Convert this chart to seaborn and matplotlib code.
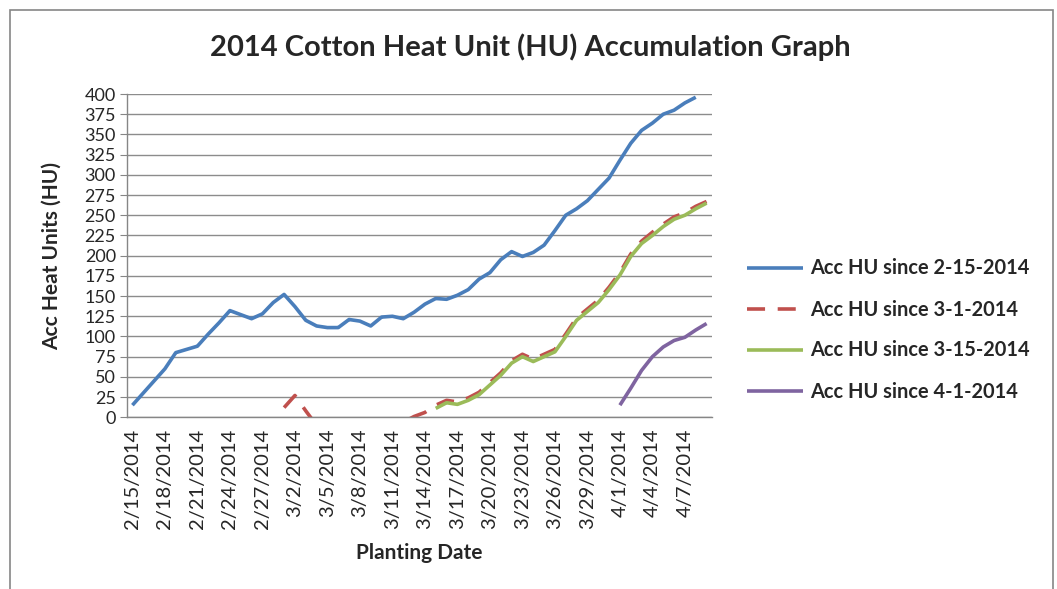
import numpy as np
import pandas as pd
import matplotlib
matplotlib.use("Agg")
import matplotlib.pyplot as plt
import seaborn as sns
from matplotlib.patches import Rectangle

nan = np.nan

# planting dates, one per day
first_day = "2014-02-15"
last_day = "2014-04-09"

series_names = ["Acc HU since 2-15-2014", "Acc HU since 3-1-2014",
                "Acc HU since 3-15-2014", "Acc HU since 4-1-2014"]

hu_feb15 = [15, 30, 45, 60, 80, 84, 88, 103, 117, 132,
            127, 122, 128, 142, 152, 137, 120, 113, 111, 111,
            121, 119, 113, 124, 125, 122, 130, 140, 147, 146,
            151, 158, 171, 179, 195, 205, 199, 204, 213, 231,
            250, 258, 268, 282, 296, 318, 339, 355, 364, 375,
            380, 389, 396, nan]

hu_mar1 = [nan] * 14 + [12, 27, 8, -10, -20, -24, -22, -25, -20, -15,
                        -10, -6, 1, 6, 15, 21, 19, 24, 31, 43,
                        55, 70, 78, 72, 78, 84, 103, 123, 134, 145,
                        161, 179, 202, 218, 229, 239, 248, 253, 261, 267]

hu_mar15 = [nan] * 28 + [11, 18, 16, 21, 28, 40, 52, 67, 75, 69,
                         75, 81, 100, 120, 131, 142, 158, 176, 199, 215,
                         225, 236, 245, 250, 258, 265]

hu_apr1 = [nan] * 45 + [15, 36, 58, 75, 87, 95, 99, 108, 116]

colors = ["#4A7EBB", "#C0504D", "#9BBB59", "#7F64A0"]

dates = pd.date_range(first_day, last_day, freq="D")
df = pd.DataFrame({"Date": dates})
for name, vals in zip(series_names, [hu_feb15, hu_mar1, hu_mar15, hu_apr1]):
    df[name] = vals
long_df = df.melt(id_vars="Date", var_name="Series", value_name="HU").dropna()

sns.set_style("white")
plt.rcParams["font.family"] = ["Lato", "DejaVu Sans"]

fig = plt.figure(figsize=(10.57, 5.89), dpi=100)
ax = fig.add_axes([127 / 1057, 1 - 417.3 / 589, (712 - 127) / 1057, (417.3 - 94) / 589])

sns.lineplot(data=long_df, x="Date", y="HU", hue="Series", style="Series",
             hue_order=series_names, style_order=series_names,
             palette=colors, dashes=[(1, 0), (5, 3.5), (1, 0), (1, 0)],
             linewidth=2.6, ax=ax, legend=True)

ax.set_ylim(0, 400)
ax.set_yticks(np.arange(0, 401, 25))
ax.set_xlim(dates[0] - pd.Timedelta(hours=12), dates[-1] + pd.Timedelta(hours=12))
tick_dates = dates[::3]
ax.set_xticks(tick_dates)
ax.set_xticklabels([f"{d.month}/{d.day}/{d.year}" for d in tick_dates], rotation=90,
                   fontsize=14.5)
ax.tick_params(axis="y", labelsize=13, length=5, color="#868686", left=True, pad=3)
ax.tick_params(axis="x", length=0, pad=8)

ax.grid(axis="y", color="#8c8c8c", linewidth=1)
ax.set_axisbelow(True)
for side in ["top", "right"]:
    ax.spines[side].set_visible(False)
for side in ["left", "bottom"]:
    ax.spines[side].set_color("#868686")
    ax.spines[side].set_linewidth(1)

ax.set_xlabel("Planting Date", fontsize=15, fontweight="bold", labelpad=10)
ax.set_ylabel("Acc Heat Units (HU)", fontsize=15, fontweight="bold")
ax.yaxis.set_label_coords((62 - 127) / 585, 0.5)

fig.text(530 / 1057, 1 - 47 / 589, "2014 Cotton Heat Unit (HU) Accumulation Graph",
         ha="center", va="center", fontsize=21, fontweight="bold")

handles, labels = ax.get_legend_handles_labels()
ax.legend(handles, labels, loc="center left", bbox_to_anchor=(729 / 1057, 1 - 330 / 589),
          bbox_transform=fig.transFigure, frameon=False, handlelength=2.8,
          handletextpad=0.35, labelspacing=1.05, prop={"weight": "bold", "size": 14.4})

fig.patches.append(Rectangle((10 / 1057, -0.02), 1043 / 1057, 1.02 - 10 / 589,
                             transform=fig.transFigure, fill=False,
                             edgecolor="#868686", linewidth=1.2))

fig.savefig("out.png", dpi=100)
